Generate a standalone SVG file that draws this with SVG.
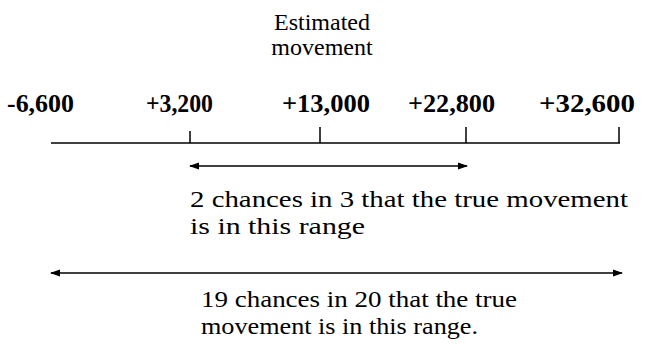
<svg xmlns="http://www.w3.org/2000/svg" width="645" height="345" viewBox="0 0 645 345">
<defs>
<marker id="ah" viewBox="0 0 10 10" refX="9" refY="5" markerWidth="10" markerHeight="10" markerUnits="userSpaceOnUse" orient="auto-start-reverse">
<path d="M0,1.5 L10,5 L0,8.5 Z" fill="#000"/>
</marker>
<style>
.t{font-family:"Liberation Serif","Times New Roman",serif;fill:#000}
.n{font-size:26px;font-weight:bold}
.b{font-size:24px}
.h{font-size:24px}
.ln{stroke:#000;stroke-width:1.5;fill:none}
</style>
</defs>
<rect width="645" height="345" fill="#fff"/>
<g id="title">
<text class="t h" x="322" y="30" text-anchor="middle">Estimated</text>
<text class="t h" x="322" y="55" text-anchor="middle">movement</text>
</g>
<g id="labels">
<text class="t n" x="7" y="112" textLength="67" lengthAdjust="spacingAndGlyphs">-6,600</text>
<text class="t n" x="146" y="112" textLength="67" lengthAdjust="spacingAndGlyphs">+3,200</text>
<text class="t n" x="282" y="112" textLength="88" lengthAdjust="spacingAndGlyphs">+13,000</text>
<text class="t n" x="408" y="112" textLength="87" lengthAdjust="spacingAndGlyphs">+22,800</text>
<text class="t n" x="539" y="112" textLength="96" lengthAdjust="spacingAndGlyphs">+32,600</text>
</g>
<g id="axis">
<line class="ln" x1="51" y1="143" x2="620" y2="143"/>
<line class="ln" x1="190" y1="131" x2="190" y2="143"/>
<line class="ln" x1="320" y1="127" x2="320" y2="143"/>
<line class="ln" x1="466" y1="127" x2="466" y2="143"/>
<line class="ln" x1="619" y1="127" x2="619" y2="143"/>
</g>
<g id="connectors">
<line class="ln" x1="190" y1="166" x2="467" y2="166" marker-start="url(#ah)" marker-end="url(#ah)"/>
<line class="ln" x1="51" y1="273" x2="622" y2="273" marker-start="url(#ah)" marker-end="url(#ah)"/>
</g>
<g id="range1">
<text class="t b" x="190" y="207" textLength="438" lengthAdjust="spacingAndGlyphs">2 chances in 3 that the true movement</text>
<text class="t b" x="190" y="234" textLength="175" lengthAdjust="spacingAndGlyphs">is in this range</text>
</g>
<g id="range2">
<text class="t b" x="201" y="307" textLength="316" lengthAdjust="spacingAndGlyphs">19 chances in 20 that the true</text>
<text class="t b" x="201" y="334" textLength="277" lengthAdjust="spacingAndGlyphs">movement is in this range.</text>
</g>
</svg>
